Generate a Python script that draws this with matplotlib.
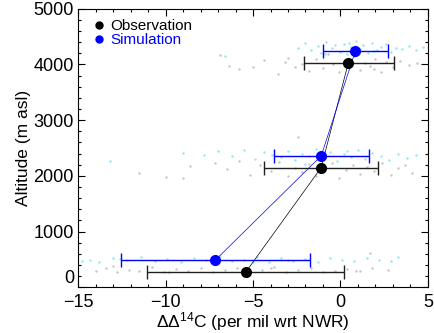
import matplotlib
matplotlib.use("Agg")
from matplotlib import pyplot as plt
from matplotlib.lines import Line2D
from matplotlib.ticker import MultipleLocator

plt.rcParams['font.family'] = ['Liberation Sans', 'DejaVu Sans']
plt.rcParams['mathtext.fontset'] = 'custom'
plt.rcParams['mathtext.rm'] = 'Liberation Sans'
plt.rcParams['mathtext.it'] = 'Liberation Sans'

# mean profiles (per mil, m asl)
obs_x = [-5.4, -1.1, 0.45]
obs_alt = [280, 2150, 4030]
obs_lo = [-11.05, -4.35, -2.1]
obs_hi = [0.2, 2.15, 3.05]

sim_x = [-7.15, -1.1, 0.85]
sim_alt = [490, 2360, 4240]
sim_lo = [-12.55, -3.8, -1.0]
sim_hi = [-1.75, 1.65, 2.7]

# individual samples (rough read-off of the faint dots)
obs_pts_x = [-6.9, -6.4, -5.8, -5.0, -4.4, -3.6, -3.0, -2.6, -2.2, -1.8, -1.4, -1.0, -0.7, -0.4, -0.1,
             0.2, 0.5, 0.8, 1.1, 1.4, 1.7, 2.0, 2.3, 2.6, 3.0, 3.4, 3.9, 4.4, -3.2, 1.9,
             -11.5, -10.0, -8.6, -7.2, -6.5, -5.8, -5.2, -4.6, -4.0, -3.5, -3.0, -2.6, -2.2, -1.8, -1.4,
             -0.9, -0.5, -0.1, 0.3, 0.7, 1.1, 1.5, 1.9, 2.4, 2.9, 3.3, 3.7, 4.1, -2.4, -9.0,
             -14.0, -13.4, -12.8, -12.1, -11.5, -10.8, -10.1, -9.4, -8.7, -8.0, -7.3, -6.6, -5.9, -5.2, -4.5,
             -3.8, -3.1, -2.4, -1.7, -1.0, -0.3, 0.4, 1.1, 1.8, 2.7, -9.8, -4.0, 0.9, 1.7, -13.0]
obs_pts_alt = [4160, 3980, 3920, 3960, 4080, 3830, 4120, 3950, 4010, 3890, 4090, 3930, 4180, 4000, 3870,
               4060, 3940, 4150, 3900, 4020, 3980, 4100, 3860, 4040, 3960, 4070, 3990, 4030, 4050, 3920,
               2060, 1980, 2180, 2230, 2120, 2260, 2020, 2190, 2090, 2250, 1990, 2150, 2070, 2210, 2000,
               2130, 2240, 1970, 2100, 2200, 2030, 2160, 2080, 2230, 2010, 2140, 2200, 2060, 2690, 1960,
               300, 340, 270, 320, 290, 360, 280, 330, 300, 350, 270, 310, 340, 290, 320,
               360, 280, 310, 340, 270, 300, 330, 290, 350, 310, 270, 340, 300, 620, 380]

sim_pts_x = [-6.6, -2.4, -2.0, -1.7, -1.3, -1.1, -0.8, -0.5, -0.3, 0.0, 0.2, 0.4, 0.6, 0.9, 1.1,
             1.3, 1.6, 1.8, 2.1, 2.3, 2.6, 2.9, 3.2, 3.5, 3.9, 4.3, 4.7, -0.9, 0.5, 1.9,
             -13.2, -9.0, -7.8, -7.0, -6.2, -5.5, -4.9, -4.4, -3.9, -3.4, -3.0, -2.6, -2.2, -1.8, -1.4,
             -1.0, -0.6, -0.2, 0.2, 0.6, 1.0, 1.4, 1.8, 2.3, 2.8, 3.3, 3.8, 4.3, -2.0, 0.4,
             -14.8, -14.3, -13.8, -13.0, -12.2, -11.4, -10.6, -9.9, -9.1, -8.4, -7.7, -6.9, -6.2, -5.5, -4.8,
             -4.1, -3.4, -2.7, -2.0, -1.3, -0.6, 0.1, 0.8, 1.5, 2.2, 2.9, 3.3, -12.6, -5.0, -3.0]
sim_pts_alt = [4150, 4300, 4380, 4260, 4330, 4210, 4400, 4290, 4350, 4230, 4370, 4180, 4310, 4420, 4270,
               4340, 4200, 4390, 4250, 4320, 4360, 4220, 4300, 4280, 4330, 4260, 4310, 4190, 4390, 4240,
               2260, 2410, 2380, 2440, 2350, 2470, 2300, 2420, 2380, 2330, 2450, 2290, 2400, 2360, 2480,
               2310, 2430, 2270, 2390, 2340, 2460, 2300, 2410, 2350, 2280, 2400, 2320, 2370, 2220, 2440,
               480, 500, 460, 520, 490, 540, 470, 510, 450, 530, 490, 560, 470, 500, 540,
               460, 520, 480, 510, 450, 530, 490, 470, 520, 500, 480, 540, 510, 460, 500]

fig = plt.figure(figsize=(4.34, 3.33), dpi=100)
ax = fig.add_axes([0.180, 0.137, 0.806, 0.837])

ax.scatter(obs_pts_x, obs_pts_alt, s=3, color='#c4c4c4', linewidths=0, zorder=1)
ax.scatter(sim_pts_x, sim_pts_alt, s=3, color='#8eeaf2', linewidths=0, zorder=1)

ax.plot(obs_x, obs_alt, color='black', lw=0.5, zorder=2)
ax.plot(sim_x, sim_alt, color='blue', lw=0.5, zorder=2)

obs_err = [[x - lo for x, lo in zip(obs_x, obs_lo)], [hi - x for x, hi in zip(obs_x, obs_hi)]]
sim_err = [[x - lo for x, lo in zip(sim_x, sim_lo)], [hi - x for x, hi in zip(sim_x, sim_hi)]]
ax.errorbar(obs_x, obs_alt, xerr=obs_err, fmt='o', color='black', ecolor='#202020', elinewidth=1,
            capsize=5, capthick=1, markersize=7, zorder=3)
ax.errorbar(sim_x, sim_alt, xerr=sim_err, fmt='o', color='blue', ecolor='blue', elinewidth=1,
            capsize=5, capthick=1, markersize=7, zorder=3)

ax.set_xlim(-15, 5)
ax.set_ylim(0, 5000)
ax.xaxis.set_major_locator(MultipleLocator(5))
ax.xaxis.set_minor_locator(MultipleLocator(1))
ax.yaxis.set_major_locator(MultipleLocator(1000))
ax.yaxis.set_minor_locator(MultipleLocator(200))
ax.tick_params(which='both', direction='in', top=True, right=True, labelsize=13)
ax.tick_params(which='major', length=5, width=0.8)
ax.tick_params(which='minor', length=2.5, width=0.8)
ax.tick_params(axis='x', pad=5)
ax.tick_params(axis='y', pad=3)
for s in ax.spines.values():
    s.set_linewidth(0.8)

ax.set_xlabel(r'ΔΔ$^{\mathregular{14}}$C (per mil wrt NWR)', fontsize=12.5, labelpad=-1)
ax.set_ylabel('Altitude (m asl)', fontsize=12.5, labelpad=2)

handles = [Line2D([], [], ls='', marker='o', color='black', markersize=5),
           Line2D([], [], ls='', marker='o', color='blue', markersize=5)]
ax.legend(handles, ['Observation', 'Simulation'], loc='upper left', bbox_to_anchor=(0.015, 1.0),
          frameon=False, fontsize=11, labelcolor=['black', 'blue'], handlelength=0.6,
          handletextpad=0.45, labelspacing=0.0, borderaxespad=0.3)

# lift the "0" label a little, as in the original, so it clears "-15"
fig.canvas.draw()
for tick in ax.yaxis.get_major_ticks():
    if abs(tick.get_loc()) < 1e-6:
        tick.label1.set_va('bottom')

fig.savefig('out.png', dpi=100)
